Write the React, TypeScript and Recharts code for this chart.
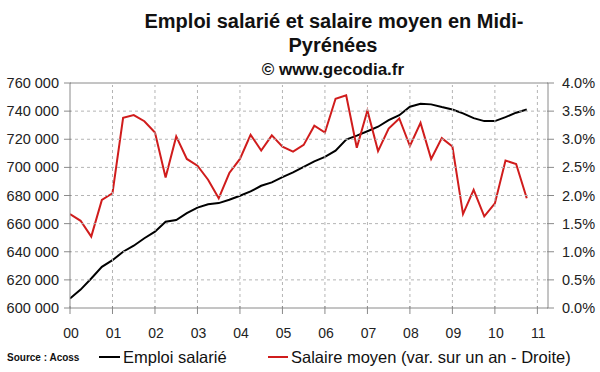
import React from 'react';
import { LineChart, Line, XAxis, YAxis, ReferenceLine } from 'recharts';

const quarters = [
  '2000T1', '2000T2', '2000T3', '2000T4',
  '2001T1', '2001T2', '2001T3', '2001T4',
  '2002T1', '2002T2', '2002T3', '2002T4',
  '2003T1', '2003T2', '2003T3', '2003T4',
  '2004T1', '2004T2', '2004T3', '2004T4',
  '2005T1', '2005T2', '2005T3', '2005T4',
  '2006T1', '2006T2', '2006T3', '2006T4',
  '2007T1', '2007T2', '2007T3', '2007T4',
  '2008T1', '2008T2', '2008T3', '2008T4',
  '2009T1', '2009T2', '2009T3', '2009T4',
  '2010T1', '2010T2', '2010T3', '2010T4',
];

// emploi salarié (gauche)
const emploi = [
  606700, 613100, 621000, 629300,
  634000, 640000, 644300, 649600,
  654300, 661400, 662600, 667400,
  671400, 673800, 674600, 677000,
  679800, 682900, 686900, 689300,
  693100, 696400, 700400, 704300,
  707400, 711900, 719800, 722600,
  725700, 728900, 733600, 737100,
  743100, 745300, 744800, 742900,
  741200, 738400, 735000, 732900,
  732900, 735700, 738900, 741200,
];

// salaire moyen, var. sur un an en % (droite)
const salaire = [
  1.67, 1.55, 1.27, 1.92,
  2.04, 3.38, 3.43, 3.32,
  3.12, 2.32, 3.05, 2.65,
  2.53, 2.28, 1.95, 2.4,
  2.65, 3.08, 2.8, 3.07,
  2.87, 2.78, 2.9, 3.24,
  3.12, 3.72, 3.78, 2.85,
  3.51, 2.79, 3.19, 3.37,
  2.88, 3.29, 2.65, 3.02,
  2.87, 1.67, 2.1, 1.63,
  1.86, 2.62, 2.56, 1.95,
];

const yearTicks = [0, 1, 2, 3, 4, 5, 6, 7, 8, 9, 10, 11];
const leftTicks = [600000, 620000, 640000, 660000, 680000, 700000, 720000, 740000, 760000];
const rightTicks = [0, 0.5, 1, 1.5, 2, 2.5, 3, 3.5, 4];

const data = quarters.map((q, i) => ({
  t: Number(q.slice(0, 4)) - 2000 + (Number(q.slice(5)) - 1) / 4,
  emploi: emploi[i],
  salaire: salaire[i],
}));

const FONT = '"Liberation Sans", Arial, sans-serif';
const AXIS = '#8a8a8a';
const GRID = '#b4b4b4';
const RED = '#d01c1c';

// plot box size (between the axes)
const PLOT_W = 478;
const PLOT_H = 225;

const LeftTick = ({ x, y, payload }: any) => (
  <g>
    {payload.value > leftTicks[0] && payload.value < leftTicks[leftTicks.length - 1] && (
      <line x1={x + 1} x2={x + PLOT_W} y1={y} y2={y} stroke={GRID} strokeDasharray="3 3" />
    )}
    <line x1={x - 4} x2={x + 3} y1={y} y2={y} stroke={AXIS} />
    <text x={x - 9} y={y} dy="0.35em" textAnchor="end" fontSize={14.5} fill="#222" fontFamily={FONT}>
      {String(payload.value).replace(/(\d{3})$/, ' $1')}
    </text>
  </g>
);

const RightTick = ({ x, y, payload }: any) => (
  <g>
    <line x1={x - 3} x2={x + 4} y1={y} y2={y} stroke={AXIS} />
    <text x={x + 12} y={y} dy="0.35em" textAnchor="start" fontSize={14.5} fill="#222" fontFamily={FONT}>
      {payload.value.toFixed(1)}%
    </text>
  </g>
);

const BottomTick = ({ x, y, payload }: any) => (
  <g>
    {payload.value > 0 && <line x1={x} x2={x} y1={y - 1} y2={y - PLOT_H} stroke={GRID} strokeDasharray="3 3" />}
    <line x1={x} x2={x} y1={y - 4} y2={y + 4} stroke={AXIS} />
    <text x={x + 1} y={y + 28} textAnchor="middle" fontSize={14} fill="#222" fontFamily={FONT}>
      {String(payload.value).padStart(2, '0')}
    </text>
  </g>
);

export default function App() {
  return (
    <div style={{ position: 'absolute', left: 0, top: 0, width: 600, height: 372, background: '#fff' }}>
      <LineChart width={600} height={372} data={data} margin={{ top: 83, right: 0, bottom: 0, left: 0 }}>
        <XAxis
          type="number"
          dataKey="t"
          domain={[0, 11.25]}
          ticks={yearTicks}
          allowDataOverflow
          height={64}
          tickSize={0}
          tickLine={false}
          stroke={AXIS}
          tick={<BottomTick />}
          interval={0}
        />
        <YAxis
          yAxisId="l"
          domain={[600000, 760000]}
          ticks={leftTicks}
          width={70}
          tickSize={0}
          tickLine={false}
          stroke={AXIS}
          tick={<LeftTick />}
          interval={0}
        />
        <YAxis
          yAxisId="r"
          orientation="right"
          domain={[0, 4]}
          ticks={rightTicks}
          width={52}
          tickSize={0}
          tickLine={false}
          stroke={AXIS}
          tick={<RightTick />}
          interval={0}
        />
        <ReferenceLine yAxisId="l" y={760000} stroke={AXIS} />
        <Line yAxisId="l" dataKey="emploi" stroke="#000" strokeWidth={2} dot={false} isAnimationActive={false} />
        <Line yAxisId="r" dataKey="salaire" stroke={RED} strokeWidth={2} dot={false} isAnimationActive={false} />
      </LineChart>
      <svg width={600} height={372} style={{ position: 'absolute', left: 0, top: 0, pointerEvents: 'none' }}>
        <g fontFamily={FONT} fontWeight="bold" fill="#111" textAnchor="middle">
          <text x={334} y={28} fontSize={20}>Emploi salarié et salaire moyen en Midi-</text>
          <text x={333} y={52} fontSize={20}>Pyrénées</text>
          <text x={333} y={75} fontSize={17}>© www.gecodia.fr</text>
        </g>
        <g fontFamily={FONT}>
          <text x={7} y={361} fontSize={10} fontWeight="bold" fill="#111">Source : Acoss</text>
          <line x1={99} x2={120} y1={357} y2={357} stroke="#000" strokeWidth={2} />
          <text x={123} y={363} fontSize={16.5} fill="#111">Emploi salarié</text>
          <line x1={268} x2={288} y1={357} y2={357} stroke={RED} strokeWidth={2} />
          <text x={291} y={363} fontSize={16.5} fill="#111">Salaire moyen (var. sur un an - Droite)</text>
        </g>
      </svg>
    </div>
  );
}
